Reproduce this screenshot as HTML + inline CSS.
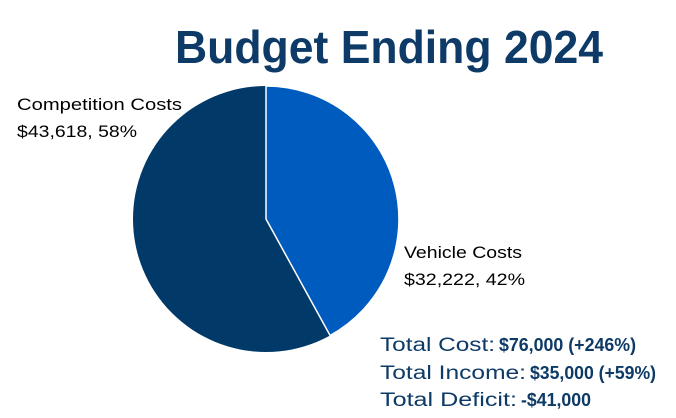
<!DOCTYPE html>
<html><head><style>body{margin:0;background:#fff}svg{display:block}</style></head>
<body>
<svg width="676" height="418" viewBox="0 0 676 418" xmlns="http://www.w3.org/2000/svg" font-family="Liberation Sans, sans-serif">
<text x="175" y="63" font-size="46" font-weight="bold" fill="#0d3a66" textLength="428" lengthAdjust="spacingAndGlyphs">Budget Ending 2024</text>
<circle cx="266" cy="219" r="133" fill="#013a68"/>
<path d="M266,219 L266,86 A133,133 0 0 1 330.1,335.5 Z" fill="#005bbf" stroke="#fff" stroke-width="1.5"/>
<text x="17" y="110" font-size="17" fill="#000" textLength="165" lengthAdjust="spacingAndGlyphs">Competition Costs</text>
<text x="17" y="137" font-size="17" fill="#000" textLength="120" lengthAdjust="spacingAndGlyphs">$43,618, 58%</text>
<text x="404" y="258" font-size="17" fill="#000" textLength="118" lengthAdjust="spacingAndGlyphs">Vehicle Costs</text>
<text x="404" y="285" font-size="17" fill="#000" textLength="121" lengthAdjust="spacingAndGlyphs">$32,222, 42%</text>
<g fill="#0d3a66" font-size="19">
<text x="380" y="351" textLength="115" lengthAdjust="spacingAndGlyphs">Total Cost:</text>
<text x="499" y="351" font-weight="bold" font-size="18" textLength="137" lengthAdjust="spacingAndGlyphs">$76,000 (+246%)</text>
<text x="380" y="379" textLength="146" lengthAdjust="spacingAndGlyphs">Total Income:</text>
<text x="530" y="379" font-weight="bold" font-size="18" textLength="126" lengthAdjust="spacingAndGlyphs">$35,000 (+59%)</text>
<text x="380" y="406" textLength="137" lengthAdjust="spacingAndGlyphs">Total Deficit:</text>
<text x="521" y="406" font-weight="bold" font-size="18" textLength="70" lengthAdjust="spacingAndGlyphs">-$41,000</text>
</g>
</svg>
</body></html>
